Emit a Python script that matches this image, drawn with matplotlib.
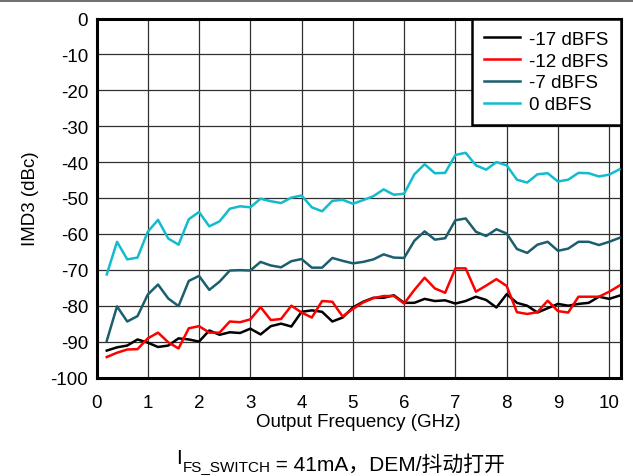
import numpy as np
import matplotlib
matplotlib.use("Agg")
import matplotlib.pyplot as plt
from matplotlib.lines import Line2D

plt.rcParams['font.family'] = ['Liberation Sans', 'Noto Sans CJK SC', 'DejaVu Sans']
plt.rcParams['axes.unicode_minus'] = False

freq = [round(0.2 * (i + 1), 1) for i in range(51)]

dbfs_m17 = [-92.5, -91.6, -91.1, -89.4, -90.3, -91.5, -91.1, -89.1, -89.4, -90.0,
            -86.9, -88.1, -87.4, -87.6, -86.4, -88.0, -85.7, -85.0, -85.8, -81.7,
            -81.3, -81.7, -84.4, -83.3, -80.5, -78.9, -77.8, -77.8, -77.1, -79.2,
            -79.2, -78.1, -78.7, -78.5, -79.4, -78.7, -77.5, -78.4, -80.5, -76.8,
            -79.2, -80.0, -81.9, -80.7, -79.5, -80.0, -79.5, -79.2, -77.5, -78.1, -77.2]
dbfs_m12 = [-94.3, -93.1, -92.2, -92.1, -89.1, -87.5, -90.2, -91.9, -86.3, -85.7,
            -87.5, -87.5, -84.4, -84.6, -83.8, -80.4, -84.0, -83.7, -80.0, -81.9,
            -83.3, -78.7, -78.9, -83.0, -80.9, -79.1, -77.9, -77.3, -77.3, -79.4,
            -75.6, -72.2, -75.2, -76.4, -69.6, -69.6, -76.1, -74.4, -72.6, -74.5,
            -81.8, -82.3, -81.8, -78.6, -81.5, -81.9, -77.5, -77.5, -77.5, -76.1, -74.4]
dbfs_m7 = [-89.8, -80.2, -84.4, -82.9, -76.9, -74.1, -78.0, -80.1, -73.1, -71.7,
           -75.6, -73.3, -70.2, -70.1, -70.2, -67.8, -68.8, -69.3, -67.6, -67.0,
           -69.4, -69.4, -66.7, -67.5, -68.2, -67.8, -67.1, -65.7, -66.6, -66.7,
           -61.9, -59.3, -61.6, -61.2, -56.2, -55.7, -59.4, -60.6, -58.7, -59.9,
           -64.2, -65.3, -63.0, -62.2, -64.7, -64.1, -62.2, -62.2, -63.1, -62.2, -61.1]
dbfs_0 = [-71.3, -62.2, -67.1, -66.6, -59.4, -56.1, -61.3, -63.0, -55.9, -53.9,
          -57.9, -56.5, -53.0, -52.3, -52.6, -50.2, -50.9, -51.4, -49.9, -49.3,
          -52.6, -53.7, -50.8, -50.5, -51.6, -50.6, -49.5, -47.6, -49.1, -48.8,
          -43.4, -40.6, -43.1, -43.0, -38.0, -37.4, -40.9, -42.1, -40.0, -40.9,
          -44.9, -45.7, -43.4, -43.1, -45.4, -44.9, -43.0, -43.1, -44.0, -43.5, -42.0]

labels = ['-17 dBFS', '-12 dBFS', '-7 dBFS', '0 dBFS']
colors = ['#000000', '#ff0000', '#1b5e6e', '#12bccd']
series = [dbfs_m17, dbfs_m12, dbfs_m7, dbfs_0]

xticks = list(range(0, 11))
yticks = list(range(-100, 1, 10))

FS = 13.5
W, H = 633, 477
fig = plt.figure(figsize=(W / 100, H / 100), dpi=100)
ax = fig.add_axes([96.5 / W, 1 - 378.5 / H, (621 - 96.5) / W, (378.5 - 19.5) / H])

for ys, lab, c in zip(series, labels, colors):
    ax.plot(freq, ys, color=c, lw=1.8, label=lab, zorder=3)

ax.set_xlim(0, 10.23)
ax.set_ylim(-100, 0)
ax.set_xticks(xticks)
ax.set_yticks(yticks)
ax.tick_params(length=0, labelsize=FS)
ax.tick_params(axis='x', pad=12)
ax.tick_params(axis='y', pad=6)
ax.grid(True, color='#303030', lw=0.9)
for s in ax.spines.values():
    s.set_linewidth(2.2)
    s.set_color('black')

ax.set_xlabel('Output Frequency (GHz)', fontsize=FS, labelpad=1)
ax.set_ylabel('IMD3 (dBc)', fontsize=FS, labelpad=8)

leg = ax.legend(loc='upper right', fontsize=FS, borderaxespad=0, fancybox=False,
                framealpha=1, edgecolor='black', handlelength=1.9,
                handletextpad=0.5, labelspacing=0.25, borderpad=0.65)
leg.get_frame().set_linewidth(1.8)

# caption built from chained text pieces
t1 = fig.text(176 / W, 1 - 464 / H, 'I', fontsize=15, va='baseline', ha='left')
t2 = ax.annotate('FS_SWITCH', xy=(1, 0), xycoords=t1, xytext=(0.5, -2.5),
                 textcoords='offset points', fontsize=11, va='baseline', ha='left',
                 annotation_clip=False)
t3 = ax.annotate(' = 41mA\uff0cDEM/抖动打开', xy=(1, 0), xycoords=t2, xytext=(0, 2.5),
                 textcoords='offset points', fontsize=15, va='baseline', ha='left',
                 annotation_clip=False)

fig.add_artist(Line2D([0, 1], [1 - 2 / H, 1 - 2 / H], transform=fig.transFigure,
                      color='#555555', lw=1.2))

fig.savefig('out.png', dpi=100)
